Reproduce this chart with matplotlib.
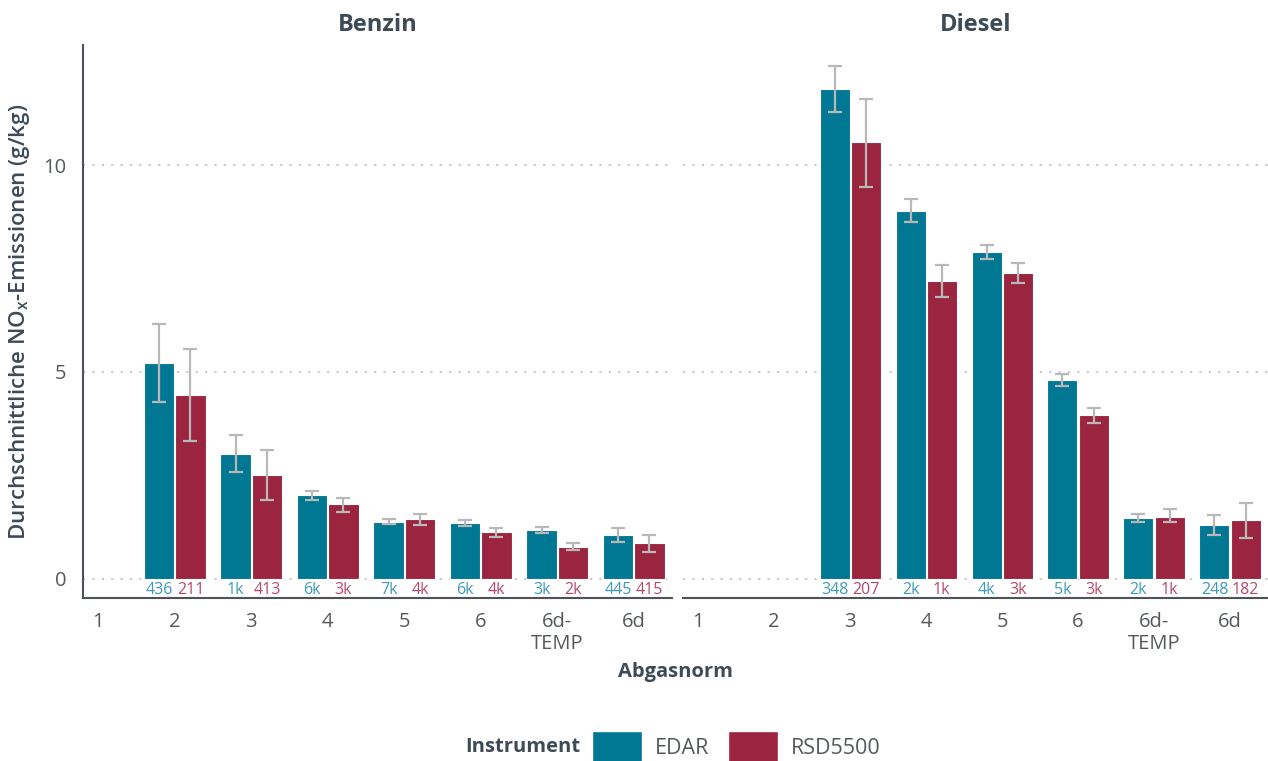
import numpy as np
import matplotlib
matplotlib.use("Agg")
import matplotlib.pyplot as plt
from matplotlib.patches import Patch

plt.rcParams['font.family'] = ['Open Sans', 'DejaVu Sans']
plt.rcParams['mathtext.default'] = 'regular'

# ── Data ──────────────────────────────────────────────────────────────────────
norms = ['1', '2', '3', '4', '5', '6', '6d-\nTEMP', '6d']

benzin_edar = [np.nan, 5.22, 3.03, 2.03, 1.38, 1.35, 1.19, 1.06]
benzin_edar_lo = [np.nan, 4.27, 2.58, 1.91, 1.33, 1.29, 1.11, 0.89]
benzin_edar_hi = [np.nan, 6.16, 3.47, 2.13, 1.45, 1.42, 1.26, 1.22]
benzin_rsd = [np.nan, 4.44, 2.51, 1.80, 1.44, 1.13, 0.77, 0.86]
benzin_rsd_lo = [np.nan, 3.33, 1.90, 1.62, 1.30, 1.02, 0.69, 0.64]
benzin_rsd_hi = [np.nan, 5.55, 3.11, 1.96, 1.58, 1.23, 0.88, 1.06]
benzin_edar_n = ['', '436', '1k', '6k', '7k', '6k', '3k', '445']
benzin_rsd_n = ['', '211', '413', '3k', '4k', '4k', '2k', '415']

diesel_edar = [np.nan, np.nan, 11.83, 8.90, 7.90, 4.80, 1.48, 1.31]
diesel_edar_lo = [np.nan, np.nan, 11.27, 8.62, 7.74, 4.65, 1.37, 1.06]
diesel_edar_hi = [np.nan, np.nan, 12.40, 9.17, 8.08, 4.95, 1.56, 1.54]
diesel_rsd = [np.nan, np.nan, 10.55, 7.19, 7.38, 3.97, 1.50, 1.42]
diesel_rsd_lo = [np.nan, np.nan, 9.48, 6.81, 7.15, 3.77, 1.37, 0.98]
diesel_rsd_hi = [np.nan, np.nan, 11.59, 7.58, 7.63, 4.14, 1.68, 1.84]
diesel_edar_n = ['', '', '348', '2k', '4k', '5k', '2k', '248']
diesel_rsd_n = ['', '', '207', '1k', '3k', '3k', '1k', '182']

C_EDAR = '#007893'
C_RSD = '#9b243f'
C_EDAR_TXT = '#3d9ab8'
C_RSD_TXT = '#b8486a'
C_ERR = '#b8b8b8'
C_DARK = '#3e4a56'
C_TICK = '#55595e'

W, H = 1268, 761
fig = plt.figure(figsize=(W / 100, H / 100), dpi=100)

y0, y1 = 598, 45
ax_l = fig.add_axes([83 / W, (H - y0) / H, (672 - 83) / W, (y0 - y1) / H])
ax_r = fig.add_axes([683 / W, (H - y0) / H, (1268 - 683) / W, (y0 - y1) / H])

x = np.arange(1, len(norms) + 1)
off = 0.205
bw = 0.395


def draw_panel(ax, title, edar, elo, ehi, rsd, rlo, rhi, en, rn, left):
    edar, elo, ehi = map(np.asarray, (edar, elo, ehi))
    rsd, rlo, rhi = map(np.asarray, (rsd, rlo, rhi))
    for yv in (0, 5, 10):
        ax.axhline(yv, color='#c4c4c4', linestyle=(0, (1.2, 4)), linewidth=1.3, zorder=0)
    ax.bar(x - off, edar, width=bw, color=C_EDAR, edgecolor='white', linewidth=0.8, zorder=2)
    ax.bar(x + off, rsd, width=bw, color=C_RSD, edgecolor='white', linewidth=0.8, zorder=2)
    ax.errorbar(x - off, edar, yerr=[edar - elo, ehi - edar], fmt='none',
                ecolor=C_ERR, elinewidth=1.6, capsize=5, capthick=1.6, zorder=3)
    ax.errorbar(x + off, rsd, yerr=[rsd - rlo, rhi - rsd], fmt='none',
                ecolor=C_ERR, elinewidth=1.6, capsize=5, capthick=1.6, zorder=3)
    for i in range(len(x)):
        ax.text(x[i] - off, -0.27, en[i], color=C_EDAR_TXT, fontsize=11.5,
                ha='center', va='center')
        ax.text(x[i] + off, -0.27, rn[i], color=C_RSD_TXT, fontsize=11.5,
                ha='center', va='center')
    ax.set_xlim(0.8, 8.5)
    ax.set_ylim(-0.46, 12.9)
    ax.set_xticks(x)
    ax.set_xticklabels(norms, fontsize=14.5, color=C_TICK, linespacing=1.15)
    ax.tick_params(axis='x', length=0, pad=10)
    ax.set_title(title, fontsize=17, fontweight='bold', color=C_DARK, pad=10)
    for s in ('top', 'right'):
        ax.spines[s].set_visible(False)
    ax.spines['bottom'].set_color('#4d5359')
    ax.spines['bottom'].set_linewidth(1.5)
    if left:
        ax.spines['left'].set_color('#4d5359')
        ax.spines['left'].set_linewidth(1.5)
        ax.set_yticks([0, 5, 10])
        ax.set_yticklabels(['0', '5', '10'], fontsize=14.5, color=C_TICK)
        ax.tick_params(axis='y', length=0, pad=12)
        ax.set_ylabel(r'Durchschnittliche NO$_\mathregular{x}$-Emissionen (g/kg)',
                      fontsize=16, fontweight='semibold', color=C_DARK, labelpad=8)
    else:
        ax.spines['left'].set_visible(False)
        ax.set_yticks([])


draw_panel(ax_l, 'Benzin', benzin_edar, benzin_edar_lo, benzin_edar_hi,
           benzin_rsd, benzin_rsd_lo, benzin_rsd_hi, benzin_edar_n, benzin_rsd_n, True)
draw_panel(ax_r, 'Diesel', diesel_edar, diesel_edar_lo, diesel_edar_hi,
           diesel_rsd, diesel_rsd_lo, diesel_rsd_hi, diesel_edar_n, diesel_rsd_n, False)

fig.text(676 / W, 1 - 672 / H, 'Abgasnorm', fontsize=14.5, fontweight='bold',
         color=C_DARK, ha='center', va='center')

# legend row: bold title on the left, then the two instrument swatches
fig.text(580 / W, 1 - 747 / H, 'Instrument', fontsize=14.5, fontweight='bold',
         color=C_DARK, ha='right', va='center')
handles = [Patch(facecolor=C_EDAR, edgecolor='white'), Patch(facecolor=C_RSD, edgecolor='white')]
leg = fig.legend(handles, ['EDAR', 'RSD5500'], ncol=2,
                 loc='center left', bbox_to_anchor=(592 / W, 1 - 747 / H), frameon=False,
                 fontsize=15.5, handlelength=2.3, handleheight=1.9,
                 handletextpad=0.6, columnspacing=0.9, borderpad=0, borderaxespad=0)
for t in leg.get_texts():
    t.set_color(C_TICK)

fig.savefig('out.png', dpi=100)
